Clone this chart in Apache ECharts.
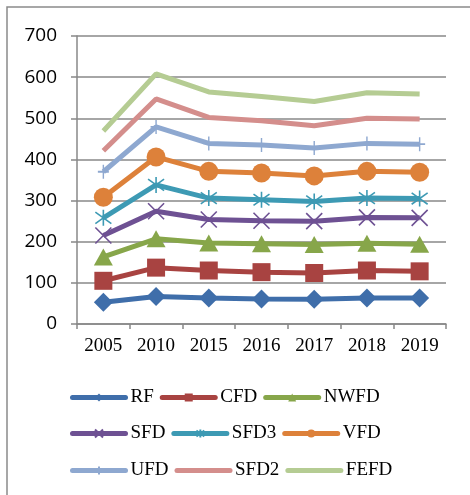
<!DOCTYPE html>
<html>
<head>
<meta charset="utf-8">
<script src="https://cdn.jsdelivr.net/npm/echarts@6/dist/echarts.min.js"></script>
<style>
  html, body { margin: 0; padding: 0; background: #fff; }
  #chart { width: 470px; height: 495px; }
</style>
</head>
<body>
<div id="chart"></div>
<script>
// categories (years)
const years = ['2005', '2010', '2015', '2016', '2017', '2018', '2019']

// series values
const RF = [53, 67, 63, 61, 60, 63, 63]
const CFD = [105, 137, 130, 126, 124, 130, 128]
const NWFD = [163, 207, 197, 195, 193, 196, 194]
const SFD = [215, 274, 254, 251, 250, 259, 258]
const SFD3 = [258, 338, 306, 302, 298, 306, 305]
const VFD = [308, 406, 371, 367, 360, 371, 369]
const UFD = [370, 479, 439, 435, 428, 439, 437]
const SFD2 = [421, 547, 502, 494, 482, 500, 498]
const FEFD = [469, 608, 564, 553, 541, 562, 559]

const yTicks = [0, 100, 200, 300, 400, 500, 600, 700]

const serif = '"Liberation Serif", "Times New Roman", serif'

const crossPath = 'path://M0,0L10,10M10,0L0,10'
const starPath = 'path://M0,0L10,10M10,0L0,10M5,-2L5,12'
const plusPath = 'path://M5,-3L5,13M0,5L10,5'

function mk(name, data, color, symbol, size, stroke) {
  return {
    name: name,
    type: 'line',
    data: data,
    symbol: symbol,
    symbolSize: size,
    showSymbol: symbol !== 'none',
    lineStyle: { color: color, width: 5 },
    itemStyle: {
      color: color,
      borderColor: color,
      borderWidth: stroke ? 1.6 : 0
    },
    z: 2
  }
}

const series = [
  mk('RF', RF, '#3F6EAA', 'diamond', [19, 19], false),
  mk('CFD', CFD, '#A84341', 'rect', 18, false),
  mk('NWFD', NWFD, '#87A64A', 'triangle', [19, 17], false),
  mk('SFD', SFD, '#6E5193', crossPath, 16, true),
  mk('SFD3', SFD3, '#3D9AB4', starPath, 16, true),
  mk('VFD', VFD, '#DD813A', 'circle', 19, false),
  mk('UFD', UFD, '#8EA8D0', plusPath, [11, 14], true),
  mk('SFD2', SFD2, '#D48E8C', 'none', 0, false),
  mk('FEFD', FEFD, '#B5CC93', 'none', 0, false)
]

function legendRow(top, names) {
  return {
    orient: 'horizontal',
    left: 65,
    top: top,
    itemWidth: 53,
    itemHeight: 10,
    itemGap: 6,
    data: names.map(function (n) {
      if (n === 'SFD2' || n === 'FEFD') {
        return { name: n, itemStyle: { opacity: 0 } }
      }
      return n
    }),
    textStyle: {
      fontFamily: serif,
      fontSize: 19,
      color: '#000',
      width: 55
    },
    lineStyle: { width: 5, cap: 'round' },
    selectedMode: false
  }
}

const chart = echarts.init(document.getElementById('chart'))
chart.setOption({
  animation: false,
  textStyle: { fontFamily: serif },
  graphic: [{
    type: 'rect',
    shape: { x: 7, y: 7, width: 500, height: 520 },
    style: { fill: 'none', stroke: '#8a8a8a', lineWidth: 1.5 },
    silent: true
  }],
  grid: { left: 77, right: 24, top: 36, bottom: 171 },
  legend: [
    legendRow(383, ['RF', 'CFD', 'NWFD']),
    legendRow(419, ['SFD', 'SFD3', 'VFD']),
    legendRow(456, ['UFD', 'SFD2', 'FEFD'])
  ],
  xAxis: {
    type: 'category',
    data: years,
    boundaryGap: true,
    axisLine: { lineStyle: { color: '#888', width: 1.5 } },
    axisTick: { show: true, length: 5, lineStyle: { color: '#888', width: 1.5 } },
    axisLabel: {
      margin: 13,
      fontFamily: serif,
      fontSize: 19,
      color: '#000'
    }
  },
  yAxis: {
    type: 'value',
    min: yTicks[0],
    max: yTicks[yTicks.length - 1],
    interval: 100,
    axisLine: { show: true, lineStyle: { color: '#888', width: 1.5 } },
    axisTick: { show: true, length: 6, lineStyle: { color: '#888', width: 1.5 } },
    splitLine: { lineStyle: { color: '#888', width: 1.5 } },
    axisLabel: {
      margin: 20,
      fontFamily: '"Open Sans", "Liberation Sans", sans-serif',
      fontSize: 19,
      color: '#000'
    }
  },
  series: series
})
</script>
</body>
</html>
